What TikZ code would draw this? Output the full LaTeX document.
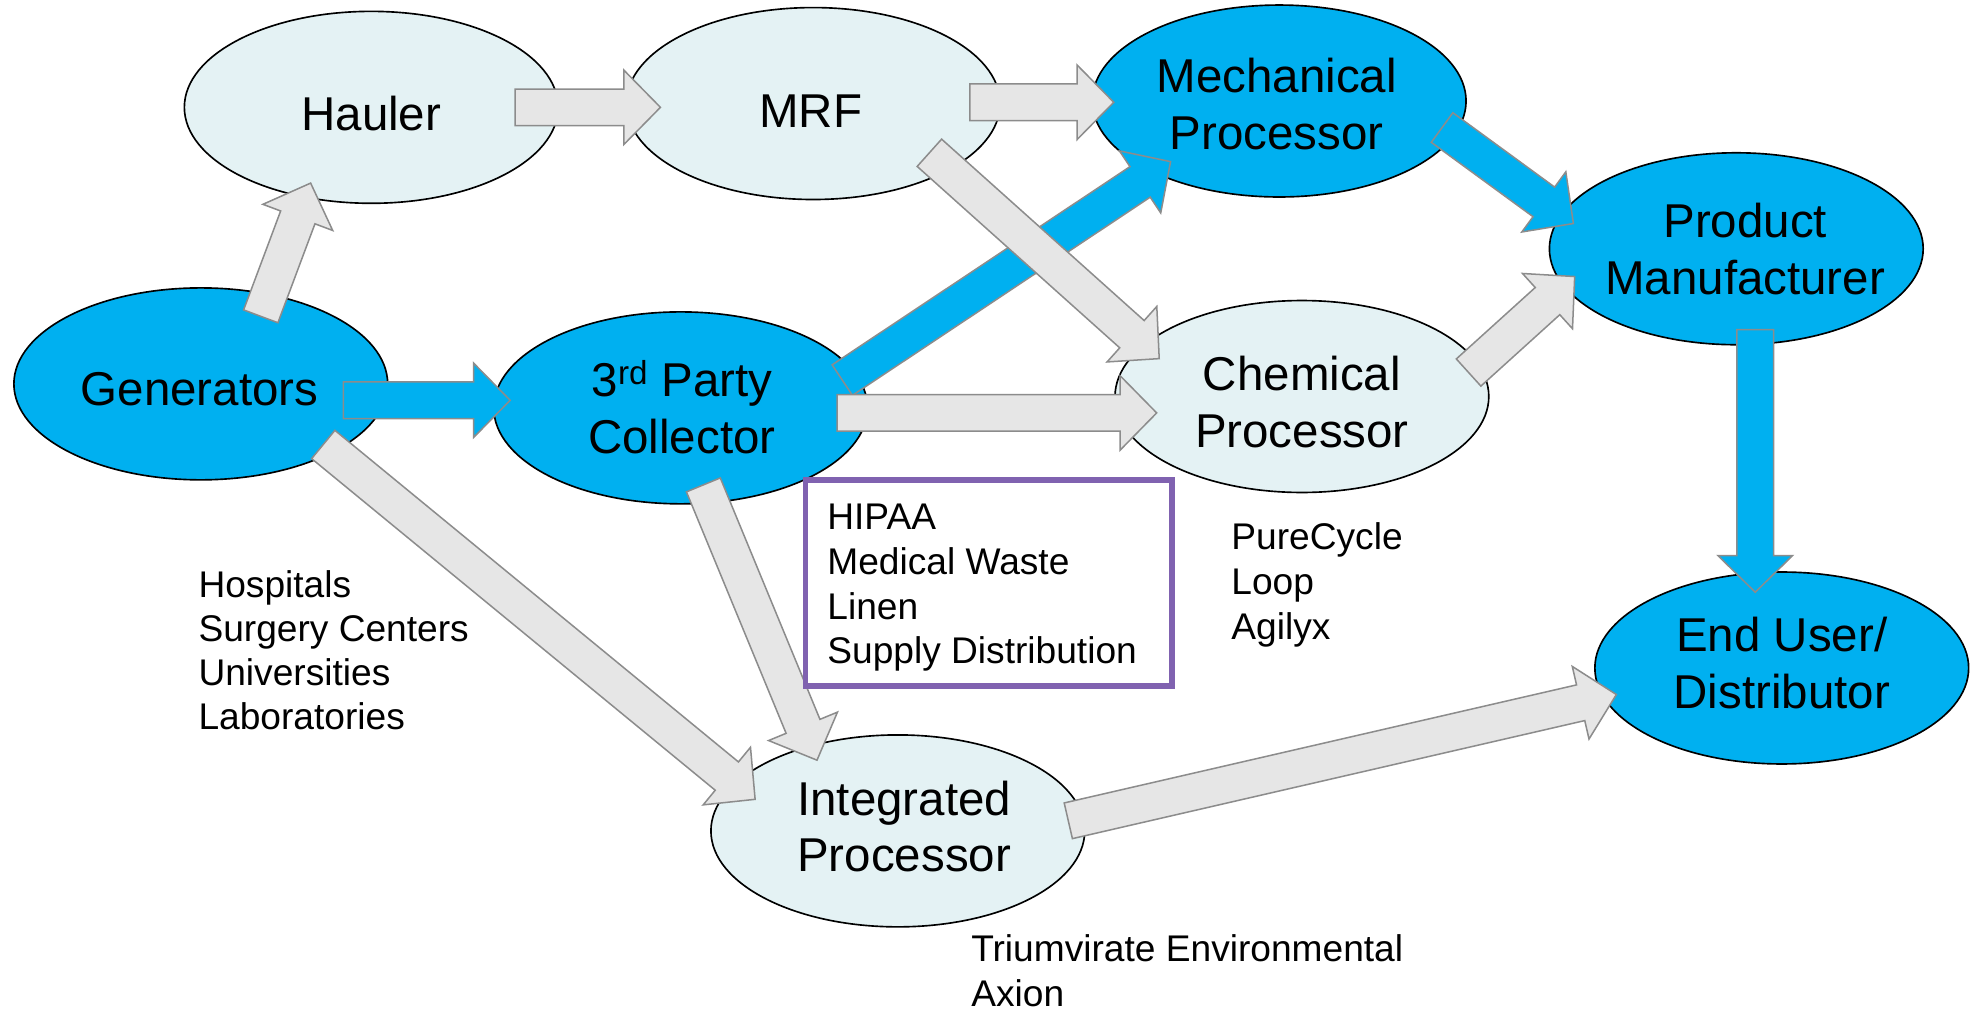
\documentclass[tikz,border=0pt]{standalone}
\usepackage{fontspec}
\setmainfont{Liberation Sans}
\usetikzlibrary{calc,shapes.geometric}
\definecolor{cblue}{HTML}{00B0F0}
\definecolor{clight}{HTML}{E4F2F4}
\definecolor{agray}{HTML}{E6E6E6}
\definecolor{aedge}{HTML}{8C8C8C}
\definecolor{cpurple}{HTML}{8062B0}
\newcommand{\blockarrow}[3]{%
  \coordinate (bh) at ($(#3)!29pt!(#2)$);
  \filldraw[#1] ($(#2)!14.5pt!90:(#3)$) -- ($(bh)!14.5pt!90:(#3)$) -- ($(bh)!29.5pt!90:(#3)$) -- (#3)
    -- ($(bh)!29.5pt!-90:(#3)$) -- ($(bh)!14.5pt!-90:(#3)$) -- ($(#2)!14.5pt!-90:(#3)$) -- cycle;
}
\tikzset{
  ell/.style={ellipse, draw=black, line width=1.3pt, minimum width=296pt, minimum height=152pt, inner sep=0pt},
  lightell/.style={ell, fill=clight},
  blueell/.style={ell, fill=cblue},
  lbl/.style={font=\fontsize{37.6}{45}\selectfont, align=center, inner sep=0pt},
  note/.style={font=\fontsize{29.4}{35.5}\selectfont, align=left, inner sep=0pt, anchor=west},
  tightnote/.style={note, font=\fontsize{29.4}{35}\selectfont},
  garrow/.style={fill=agray, draw=aedge, line width=1.2pt, line join=miter},
  barrow/.style={fill=cblue, draw=aedge, line width=1.2pt, line join=miter},
}
\begin{document}
\begin{tikzpicture}[x=1pt,y=1pt]
\useasboundingbox (0,0) rectangle (1568,-802);
\fill[white] (0,0) rectangle (1568,-802);
% ellipses
\node[lightell] (hauler) at (294,-85) {};
\node[lightell] (mrf) at (644,-82) {};
\node[blueell] (mech) at (1013,-80) {};
\node[blueell] (prod) at (1375,-197) {};
\node[blueell] (gen) at (159,-304) {};
\node[blueell] (third) at (539,-323) {};
\node[lightell] (chem) at (1031,-314) {};
\node[blueell] (enduser) at (1411,-529) {};
\node[lightell] (integ) at (711,-658) {};
% arrow end points
\coordinate (gh-s) at (206.5,-250.5); \coordinate (gh-e) at (246,-145);
\coordinate (hm-s) at (408,-85);      \coordinate (hm-e) at (523,-85);
\coordinate (mm-s) at (768,-81);      \coordinate (mm-e) at (882,-81);
\coordinate (mc-s) at (736,-121);     \coordinate (mc-e) at (918,-284);
\coordinate (gt-s) at (272,-317);     \coordinate (gt-e) at (404,-317);
\coordinate (gi-s) at (256,-352);     \coordinate (gi-e) at (598,-633);
\coordinate (tm-s) at (667,-301);     \coordinate (tm-e) at (927,-128);
\coordinate (tc-s) at (663,-327);     \coordinate (tc-e) at (916,-327);
\coordinate (ti-s) at (557,-384);     \coordinate (ti-e) at (647,-602);
\coordinate (mp-s) at (1142,-101);    \coordinate (mp-e) at (1246,-177);
\coordinate (cp-s) at (1163,-295);    \coordinate (cp-e) at (1247,-219);
\coordinate (pe-s) at (1390,-261);    \coordinate (pe-e) at (1390,-469);
\coordinate (ie-s) at (846,-650);     \coordinate (ie-e) at (1280,-550);
% arrows
\blockarrow{garrow}{gh-s}{gh-e}
\blockarrow{garrow}{hm-s}{hm-e}
\blockarrow{garrow}{mm-s}{mm-e}
\blockarrow{barrow}{gt-s}{gt-e}
\blockarrow{barrow}{tm-s}{tm-e}
\blockarrow{garrow}{mc-s}{mc-e}
\blockarrow{garrow}{gi-s}{gi-e}
\blockarrow{garrow}{tc-s}{tc-e}
\blockarrow{garrow}{ti-s}{ti-e}
\blockarrow{barrow}{mp-s}{mp-e}
\blockarrow{garrow}{cp-s}{cp-e}
\blockarrow{barrow}{pe-s}{pe-e}
\blockarrow{garrow}{ie-s}{ie-e}
% labels
\node[lbl] (t-hauler) at (294,-90) {Hauler};
\node[lbl] (t-mrf) at (642,-88) {MRF};
\node[lbl] (t-mech) at (1011,-82.5) {Mechanical\\Processor};
\node[lbl] (t-prod) at (1382,-197.5) {Product\\Manufacturer};
\node[lbl] (t-gen) at (158,-308) {Generators};
\node[lbl] (t-third) at (540,-322.5) {3\textsuperscript{rd} Party\\Collector};
\node[lbl] (t-chem) at (1031,-318.5) {Chemical\\Processor};
\node[lbl] (t-end) at (1411,-525) {End User/\\Distributor};
\node[lbl] (t-integ) at (716,-654.5) {Integrated\\Processor};
% box
\node[draw=cpurple, line width=4.5pt, minimum width=290pt, minimum height=163pt, inner sep=0pt] (box) at (783,-461.5) {};
\node[note] (t-box) at (655,-465.5) {HIPAA\\Medical Waste\\Linen\\Supply Distribution};
% side notes
\node[tightnote] (t-hosp) at (157,-515) {Hospitals\\Surgery Centers\\Universities\\Laboratories};
\node[note] (t-pure) at (975,-463) {PureCycle\\Loop\\Agilyx};
\node[note] (t-tri) at (769,-769) {Triumvirate Environmental\\Axion};
\end{tikzpicture}
\end{document}
